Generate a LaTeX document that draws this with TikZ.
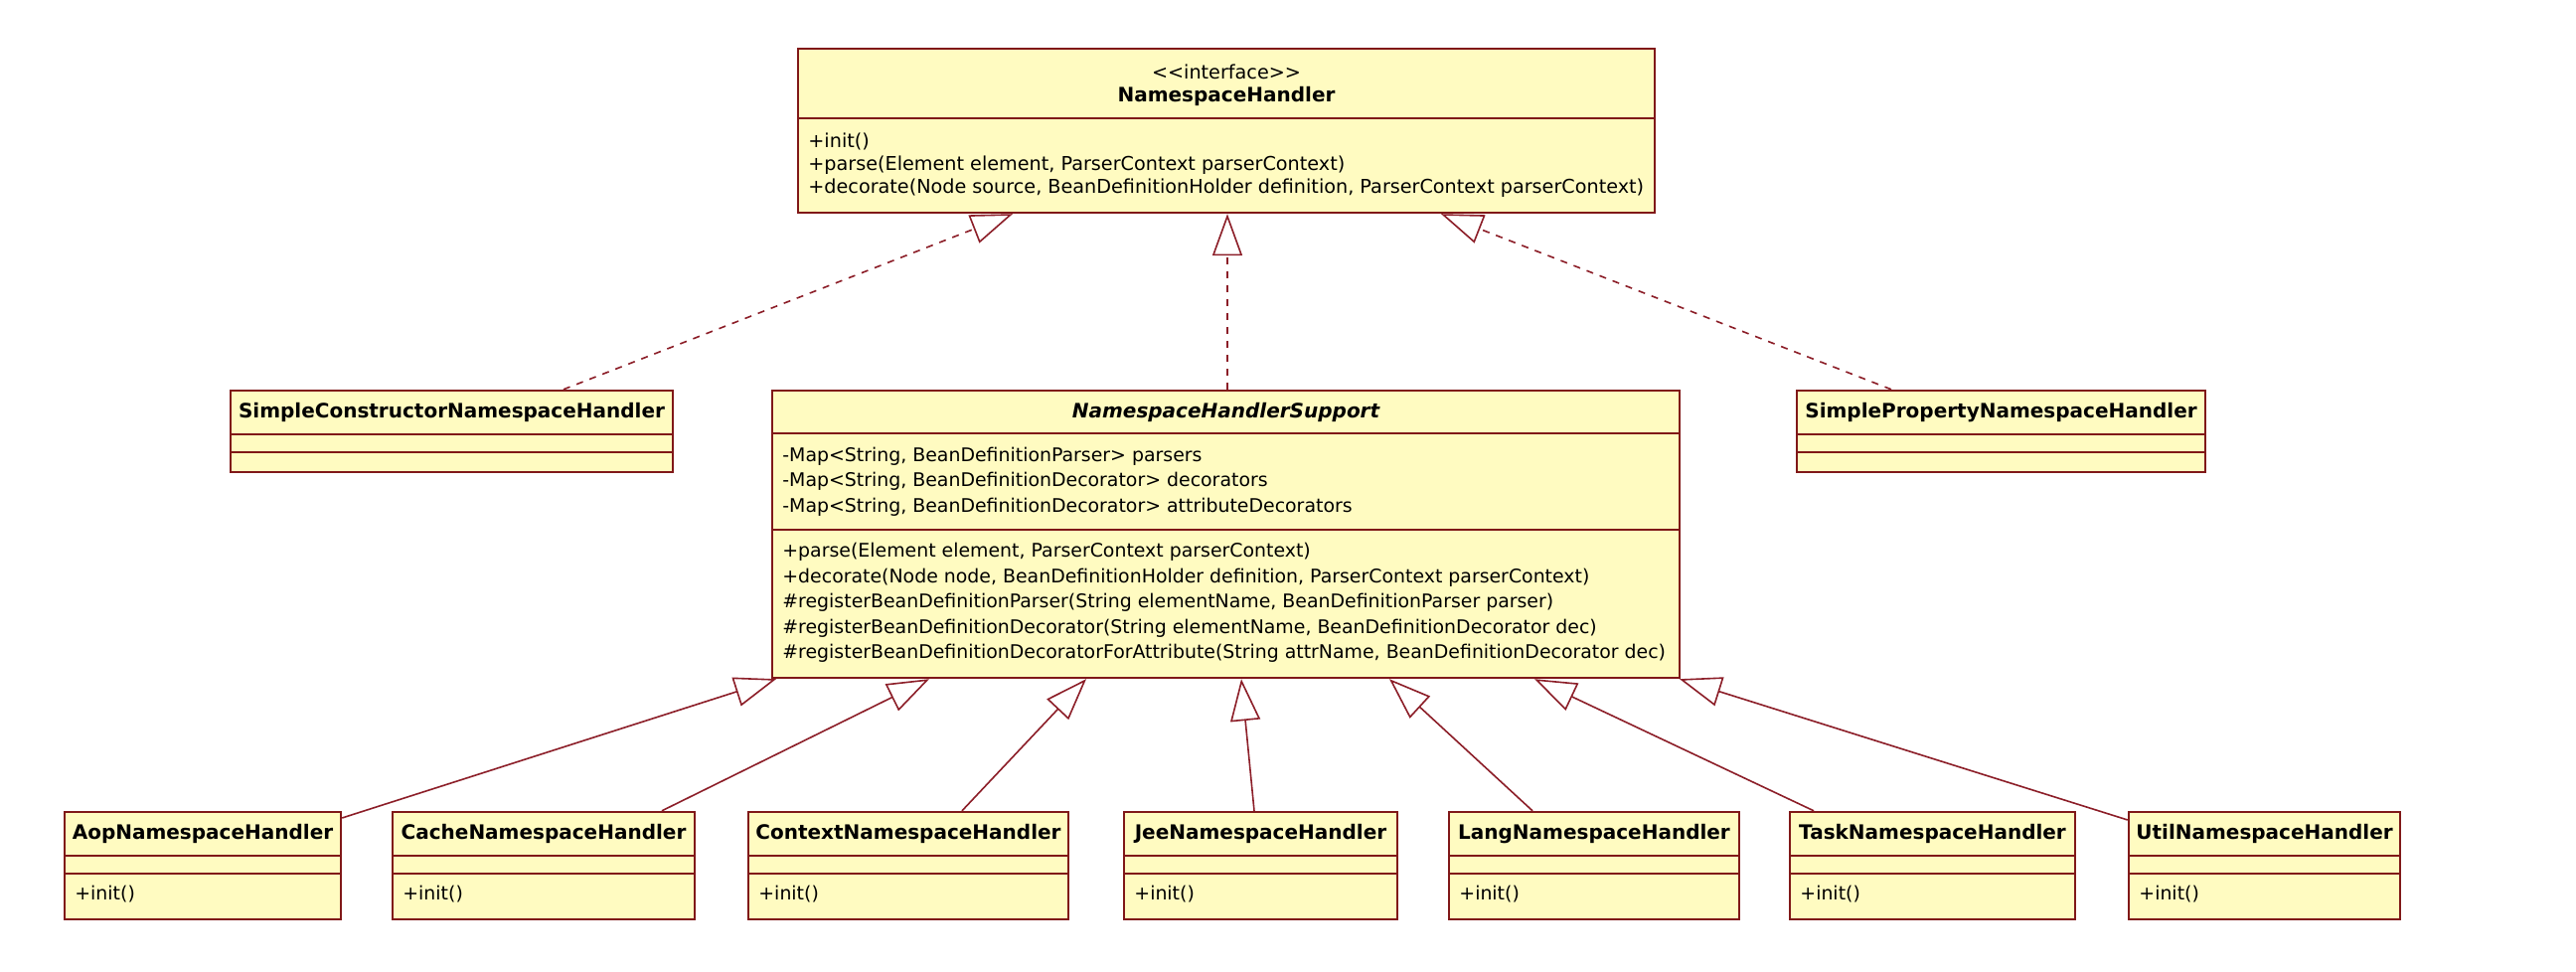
\documentclass[tikz,border=0pt]{standalone}
\usepackage{fontspec}
\setmainfont{DejaVu Sans}
\usetikzlibrary{arrows.meta,fit,calc}
\definecolor{boxfill}{RGB}{255,251,193}
\definecolor{boxline}{RGB}{128,24,24}
\definecolor{conn}{RGB}{140,30,40}
\begin{document}
\begin{tikzpicture}[x=0.5pt,y=-0.5pt,
  cls/.style={draw=boxline, fill=boxfill, line width=1.2pt, inner sep=0pt},
  divider/.style={draw=boxline, line width=1.2pt},
  ttl/.style={font=\fontsize{10}{12}\selectfont\bfseries, inner sep=0pt},
  stereo/.style={font=\fontsize{9.6}{12}\selectfont, inner sep=0pt},
  mem/.style={font=\fontsize{9.45}{12.75}\selectfont, inner sep=0pt, align=left, anchor=west},
  memi/.style={mem, font=\fontsize{9.6}{11.5}\selectfont},
  gen/.style={draw=conn, line width=0.8pt, -{Triangle[open, length=21pt, width=15pt, line width=0.8pt]}},
  real/.style={gen, dash pattern=on 3.5pt off 3.5pt},
]
\fill[white] (0,0) rectangle (2592,978);
\useasboundingbox (0,0) rectangle (2592,978);

% Interface
\node[cls, fit={(803,49)(1665,214)}] (iface) {};
\draw[divider] (803,119) -- (1665,119);
\node[stereo] (iface-st) at (1234,72) {{<}{<}interface{>}{>}};
\node[ttl] (iface-name) at (1234,97) {NamespaceHandler};
\node[memi] (iface-ops) at (813,166) {+init()\\+parse(Element element, ParserContext parserContext)\\+decorate(Node source, BeanDefinitionHolder definition, ParserContext parserContext)};

% SimpleConstructorNamespaceHandler
\node[cls, fit={(232,393)(677,475)}] (sc) {};
\draw[divider] (232,437) -- (677,437);
\draw[divider] (232,455) -- (677,455);
\node[ttl] (sc-name) at (454.5,415) {SimpleConstructorNamespaceHandler};

% SimplePropertyNamespaceHandler
\node[cls, fit={(1808,393)(2219,475)}] (sp) {};
\draw[divider] (1808,437) -- (2219,437);
\draw[divider] (1808,455) -- (2219,455);
\node[ttl] (sp-name) at (2013.5,415) {SimplePropertyNamespaceHandler};

% NamespaceHandlerSupport
\node[cls, fit={(777,393)(1690,682)}] (nhs) {};
\draw[divider] (777,436) -- (1690,436);
\draw[divider] (777,533) -- (1690,533);
\node[ttl, font=\fontsize{10}{12}\selectfont\bfseries\itshape] (nhs-name) at (1233.5,415) {NamespaceHandlerSupport};
\node[mem] (nhs-attr) at (787,484.5) {-Map<String, BeanDefinitionParser> parsers\\-Map<String, BeanDefinitionDecorator> decorators\\-Map<String, BeanDefinitionDecorator> attributeDecorators};
\node[mem] (nhs-ops) at (787,606.5) {+parse(Element element, ParserContext parserContext)\\+decorate(Node node, BeanDefinitionHolder definition, ParserContext parserContext)\\\#registerBeanDefinitionParser(String elementName, BeanDefinitionParser parser)\\\#registerBeanDefinitionDecorator(String elementName, BeanDefinitionDecorator dec)\\\#registerBeanDefinitionDecoratorForAttribute(String attrName, BeanDefinitionDecorator dec)};

% Bottom row
\foreach \nm/\txt/\xa/\xb in {aop/Aop/65/343, cache/Cache/395/699, context/Context/753/1075, jee/Jee/1131/1406, lang/Lang/1458/1750, task/Task/1801/2088, util/Util/2142/2415}{
  \node[cls, fit={(\xa,817)(\xb,925)}] (\nm) {};
  \draw[divider] (\xa,861) -- (\xb,861);
  \draw[divider] (\xa,879) -- (\xb,879);
  \node[ttl] (\nm-name) at ({(\xa+\xb)/2},839) {\txt NamespaceHandler};
  \node[mem] (\nm-ops) at ({\xa+10},900) {+init()};
}

% Realizations
\draw[real] (sc.north -| 567,0) -- (iface.south -| 1019,0);
\draw[real] (nhs.north -| 1235,0) -- (iface.south -| 1235,0);
\draw[real] (sp.north -| 1903,0) -- (iface.south -| 1450,0);

% Generalizations
\draw[gen] (aop.east |- 0,823) -- (nhs.south -| 781,0);
\draw[gen] (cache.north -| 666,0) -- (nhs.south -| 935,0);
\draw[gen] (context.north -| 968,0) -- (nhs.south -| 1093,0);
\draw[gen] (jee.north -| 1262,0) -- (nhs.south -| 1249,0);
\draw[gen] (lang.north -| 1542,0) -- (nhs.south -| 1398,0);
\draw[gen] (task.north -| 1825,0) -- (nhs.south -| 1544,0);
\draw[gen] (util.west |- 0,825) -- (nhs.south -| 1690,0);
\end{tikzpicture}
\end{document}
